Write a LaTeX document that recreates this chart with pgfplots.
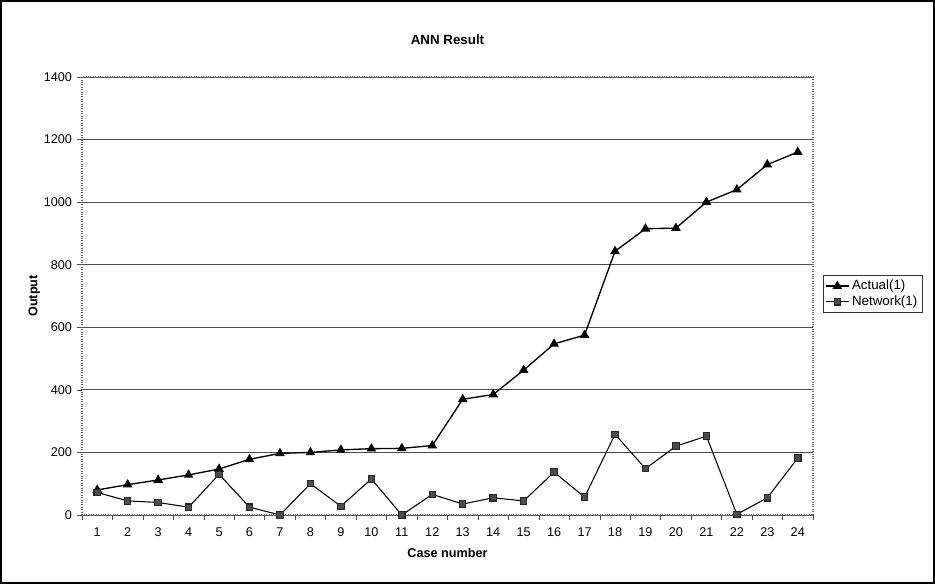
\documentclass[border=0pt]{standalone}
\usepackage{pgfplots}
\pgfplotsset{compat=1.18}
\usepackage{fontspec}
\setmainfont{Liberation Sans}
\begin{document}
\begin{tikzpicture}
\draw[line width=1.5pt] (0.75pt,0.75pt) rectangle (700.5pt,437.25pt);
\begin{axis}[
  at={(61.5pt,51.75pt)}, anchor=south west,
  scale only axis, width=548.25pt, height=328.5pt,
  xmin=0.5, xmax=24.5, ymin=0, ymax=1400,
  xtick={1,...,24}, major x tick style={draw=none},
  minor xtick={0.5,1.5,...,24.5},
  ytick={0,200,...,1400},
  tick align=outside, tick pos=left,
  major tick length=4pt, minor tick length=4pt,
  ymajorgrids, grid style={black!70, line width=0.6pt},
  axis line style={black!60, densely dotted, line width=0.8pt},
  every tick/.style={black!70},
  ticklabel style={font=\fontsize{9.5}{10}\selectfont},
  xticklabel style={yshift=-2pt},
  /pgf/number format/assume math mode=true,
  /pgf/number format/1000 sep={},
  xlabel={\bfseries Case number}, ylabel={\bfseries Output},
  xlabel style={font=\fontsize{9.5}{10}\selectfont, yshift=-2pt},
  ylabel style={font=\fontsize{9.5}{10}\selectfont, yshift=-4pt},
  title={\bfseries ANN Result}, title style={font=\fontsize{10}{11}\selectfont, yshift=15pt},
  legend style={at={(1.0137,0.5046)}, anchor=west, draw=black!80, font=\fontsize{10}{11}\selectfont, inner sep=1.5pt, row sep=-1pt, cells={anchor=west}},
  legend cell align=left,
]
\addplot[black, line width=1pt, mark=triangle*, mark size=3.2pt, mark options={solid, fill=black}] coordinates {
(1,80)(2,97)(3,112)(4,128)(5,147)(6,178)(7,197)(8,200)(9,208)(10,212)(11,213)(12,222)
(13,370)(14,385)(15,463)(16,547)(17,575)(18,843)(19,915)(20,917)(21,1000)(22,1040)(23,1120)(24,1160)};
\addlegendentry{Actual(1)}
\addplot[black, line width=0.8pt, mark=square*, mark size=2.4pt, mark options={solid, fill=black!70, draw=black!85}] coordinates {
(1,72)(2,45)(3,40)(4,25)(5,130)(6,25)(7,0)(8,100)(9,28)(10,115)(11,0)(12,66)
(13,35)(14,55)(15,45)(16,137)(17,57)(18,258)(19,148)(20,220)(21,252)(22,2)(23,55)(24,182)};
\addlegendentry{Network(1)}
\end{axis}
\end{tikzpicture}
\end{document}
